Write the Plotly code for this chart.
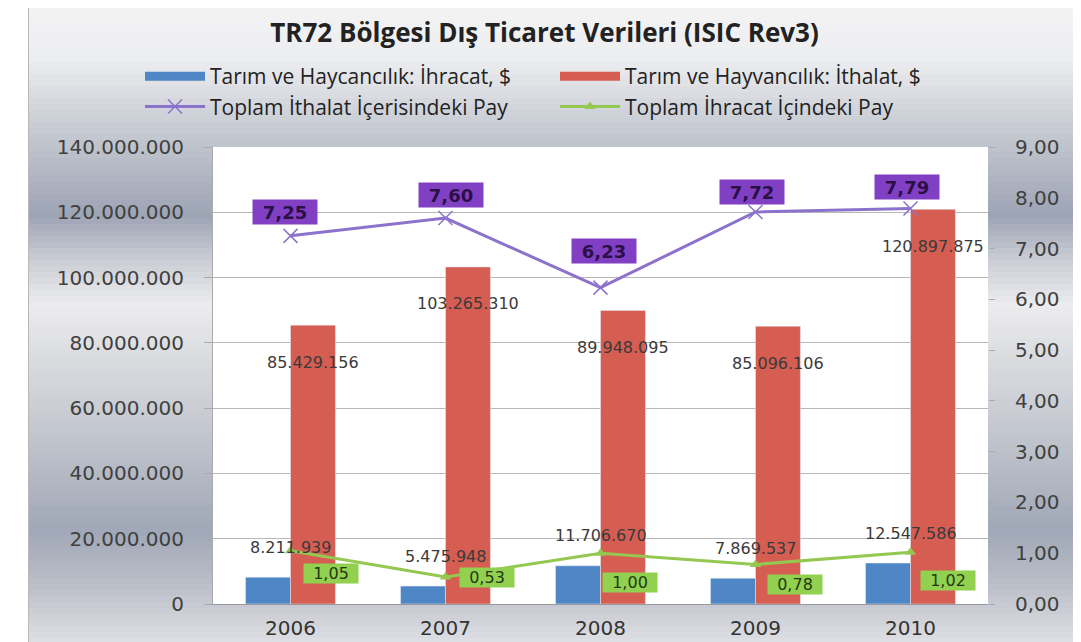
import plotly.graph_objects as go

# ---------------- data ----------------
years = ["2006", "2007", "2008", "2009", "2010"]
export_usd = [8211939, 5475948, 11706670, 7869537, 12547586]
import_usd = [85429156, 103265310, 89948095, 85096106, 120897875]
import_share = [7.25, 7.60, 6.23, 7.72, 7.79]
export_share = [1.05, 0.53, 1.00, 0.78, 1.02]
left_ticks = [0, 20000000, 40000000, 60000000, 80000000, 100000000, 120000000, 140000000]
right_ticks = [0, 1, 2, 3, 4, 5, 6, 7, 8, 9]

name_exp = "Tarım ve Haycancılık: İhracat, $"
name_imp = "Tarım ve Hayvancılık: İthalat, $"
name_ishare = "Toplam İthalat İçerisindeki Pay"
name_eshare = "Toplam İhracat İçindeki Pay"
title = "TR72 Bölgesi Dış Ticaret Verileri (ISIC Rev3)"

# label offsets (pixels) - layout only
purple_shift = [(-6, 24), (5, 23), (3, 37), (-4, 20), (-4, 21)]
green_shift = [(40, -23), (41, 0), (29, -29), (39, -20), (37, -28)]

OFF = 8  # page body margin
W, H = 1081 - OFF, 642 - OFF
ML, MT = 213 - OFF, 147 - OFF
MR = W - (988 - OFF)
MB = H - (604 - OFF)
PW, PH = W - ML - MR, H - MT - MB

BLUE = "#4F86C6"
RED = "#D55D52"
PURPLE = "#8C72CC"
GREEN = "#94C851"
TXT = "#3a3a3a"


def dots(v):
    return f"{v:,}".replace(",", ".")


def comma2(v):
    return f"{v:.2f}".replace(".", ",")


fig = go.Figure()
fig.add_trace(go.Bar(x=years, y=export_usd, name=name_exp, marker_color=BLUE,
                     xaxis="x", yaxis="y", showlegend=False))
fig.add_trace(go.Bar(x=years, y=import_usd, name=name_imp, marker_color=RED,
                     xaxis="x", yaxis="y", showlegend=False))
# legend swatches drawn as wide bands, like the reference
fig.add_trace(go.Scatter(x=[None], y=[None], name=name_exp, mode="lines",
                         line=dict(color=BLUE, width=9), hoverinfo="skip"))
fig.add_trace(go.Scatter(x=[None], y=[None], name=name_imp, mode="lines",
                         line=dict(color=RED, width=9), hoverinfo="skip"))
fig.add_trace(go.Scatter(x=years, y=import_share, name=name_ishare, xaxis="x", yaxis="y2",
                         mode="lines+markers",
                         line=dict(color=PURPLE, width=3),
                         marker=dict(symbol="x-thin-open", size=14,
                                     line=dict(color=PURPLE, width=1.5))))
fig.add_trace(go.Scatter(x=years, y=export_share, name=name_eshare, xaxis="x", yaxis="y2",
                         mode="lines+markers",
                         line=dict(color=GREEN, width=3),
                         marker=dict(symbol="triangle-up", size=10, color=GREEN)))

ann = []
for i, c in enumerate(years):
    # category axis position i corresponds to category years[i]
    ann.append(dict(x=i, y=import_usd[i], xref="x", yref="y", text=dots(import_usd[i]),
                    showarrow=False, xshift=22, yshift=-37,
                    font=dict(family="DejaVu Sans", size=16, color=TXT)))
    ann.append(dict(x=i, y=export_usd[i], xref="x", yref="y", text=dots(export_usd[i]),
                    showarrow=False, xshift=0, yshift=30,
                    font=dict(family="DejaVu Sans", size=16, color=TXT)))
    ann.append(dict(x=i, y=import_share[i], xref="x", yref="y2", text="<b>" + comma2(import_share[i]) + "</b>",
                    showarrow=False, xshift=purple_shift[i][0], yshift=purple_shift[i][1],
                    bgcolor="#8140C4", borderpad=2, width=60, height=20,
                    font=dict(family="DejaVu Sans", size=18, color="#2b1048")))
    ann.append(dict(x=i, y=export_share[i], xref="x", yref="y2", text=comma2(export_share[i]),
                    showarrow=False, xshift=green_shift[i][0], yshift=green_shift[i][1],
                    bgcolor="#92D050", borderpad=2, width=50, height=15,
                    font=dict(family="DejaVu Sans", size=16, color="#1f3a10")))

# background gradient bands (screen pixel y, colour)
stops = [(0, (244, 244, 245)), (60, (236, 237, 239)), (130, (198, 202, 210)),
         (215, (157, 164, 180)), (260, (202, 205, 212)), (305, (236, 236, 238)),
         (340, (224, 225, 228)), (440, (192, 196, 204)), (530, (160, 167, 182)),
         (580, (184, 188, 198)), (642, (222, 223, 227))]


def col_at(py):
    for (y0, c0), (y1, c1) in zip(stops[:-1], stops[1:]):
        if y0 <= py <= y1:
            t = (py - y0) / (y1 - y0)
            return "rgb(%d,%d,%d)" % tuple(round(a + (b - a) * t) for a, b in zip(c0, c1))
    return "rgb(222,223,227)"


def py2paper(py):  # screen pixel -> paper
    return (H - MB - (py - OFF)) / PH


def px2paper(px):
    return (px - OFF - ML) / PW


shapes = []
step = 6
for py in range(OFF, 642, step):
    shapes.append(dict(type="rect", xref="paper", yref="paper", layer="below",
                       x0=px2paper(28), x1=px2paper(1090),
                       y0=py2paper(py + step + 0.5), y1=py2paper(py),
                       fillcolor=col_at(py + step / 2), line=dict(width=0)))
shapes.append(dict(type="rect", xref="paper", yref="paper", layer="below",
                   x0=px2paper(0), x1=px2paper(28),
                   y0=py2paper(650), y1=py2paper(0),
                   fillcolor="white", line=dict(width=0)))
shapes.append(dict(type="line", xref="paper", yref="paper", layer="below",
                   x0=px2paper(28.5), x1=px2paper(28.5),
                   y0=py2paper(650), y1=py2paper(8),
                   line=dict(color="#b8b8b8", width=1)))
shapes.append(dict(type="rect", xref="paper", yref="paper", layer="below",
                   x0=0, x1=1, y0=0, y1=1, fillcolor="white", line=dict(width=0)))

fig.update_layout(
    width=W, height=H,
    margin=dict(l=ML, r=MR, t=MT, b=MB, autoexpand=False),
    paper_bgcolor="white",
    plot_bgcolor="rgba(0,0,0,0)",
    barmode="group", bargap=0.42, bargroupgap=0,
    title=dict(text="<b>" + title + "</b>", x=0.5, xanchor="center",
               y=1 - (33 - OFF) / H, yanchor="middle",
               font=dict(family="Open Sans", size=26, color="#222222")),
    legend=dict(orientation="h", x=px2paper(140), xanchor="left",
                y=py2paper(56), yanchor="top",
                entrywidth=340, entrywidthmode="pixels", itemwidth=60,
                bgcolor="rgba(0,0,0,0)",
                font=dict(family="Open Sans", size=21, color="#222222")),
    xaxis=dict(type="category", categoryorder="array", categoryarray=years,
               range=[-0.5, len(years) - 0.5], autorange=False, automargin=False,
               showgrid=False, showline=True, linecolor="#999999",
               ticks="", ticklabelstandoff=6,
               tickfont=dict(family="DejaVu Sans", size=20, color="#333333")),
    yaxis=dict(range=[0, 140000000], tickvals=left_ticks, automargin=False,
               ticktext=[dots(v) for v in left_ticks],
               showgrid=True, gridcolor="#b8b8b8", gridwidth=1, zeroline=False,
               showline=True, linecolor="#aaaaaa", ticks="outside", ticklen=8,
               tickcolor="#aaaaaa", ticklabelstandoff=16,
               tickfont=dict(family="DejaVu Sans", size=20, color="#404040")),
    yaxis2=dict(range=[0, 9], overlaying="y", side="right", automargin=False,
                tickvals=right_ticks, ticktext=[comma2(v) for v in right_ticks],
                showgrid=False, zeroline=False, showline=False,
                ticks="outside", ticklen=6, tickcolor="#aaaaaa", ticklabelstandoff=16,
                tickfont=dict(family="DejaVu Sans", size=20, color="#404040")),
    annotations=ann,
    shapes=shapes,
    showlegend=True,
)

fig.write_html("out.html")
